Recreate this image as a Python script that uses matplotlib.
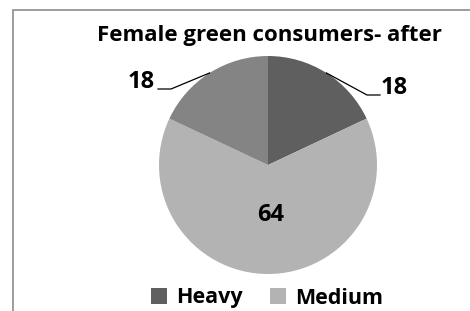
import numpy as np
import matplotlib
matplotlib.use("Agg")
import matplotlib.pyplot as plt
from matplotlib.patches import Rectangle, Patch

title = "Female green consumers- after"
categories = ["Heavy", "Medium", "Light"]
values = [18, 64, 18]
colors = ["#5f5f5f", "#b3b3b3", "#848484"]
legend_shown = ["Heavy", "Medium"]

W, H = 470, 311
fig = plt.figure(figsize=(W / 100, H / 100), dpi=100)
ax = fig.add_axes([0, 0, 1, 1])

FONT = "Open Sans"
cx, cy, r = 268, H - 165, 109

wedges, _ = ax.pie(values, colors=colors, startangle=90, counterclock=False,
                   center=(cx, cy), radius=r, frame=True,
                   wedgeprops=dict(linewidth=0))
ax.set_xlim(0, W)
ax.set_ylim(0, H)
ax.axis("off")

# chart border (screenshot crop)
fig.patches.append(Rectangle((12.5 / W, -0.1), 1.2, 1 - 10 / H + 0.1,
                             transform=fig.transFigure, fill=False,
                             edgecolor="#8c8c8c", linewidth=1.2))

fig.text(269 / W, 1 - 35 / H, title, ha="center", va="center",
         fontsize=16, fontweight="bold", family=FONT)

# labels
for w, v, cat in zip(wedges, values, categories):
    mid = np.deg2rad((w.theta1 + w.theta2) / 2)
    ex, ey = cx + r * np.cos(mid), cy + r * np.sin(mid)
    if cat == "Medium":
        ax.text(271, cy - 50, str(v), ha="center", va="center",
                fontsize=17, fontweight="bold", family=FONT)
    elif cat == "Heavy":
        ax.plot([ex, 367, 380], [ey, H - 95, H - 95], color="black", lw=0.9)
        ax.text(381, H - 88, str(v), ha="left", va="center",
                fontsize=17, fontweight="bold", family=FONT)
    else:
        ax.plot([ex, 171, 158], [ey, H - 89, H - 89], color="black", lw=0.9)
        ax.text(155, H - 82, str(v), ha="right", va="center",
                fontsize=17, fontweight="bold", family=FONT)

handles = [Patch(facecolor=colors[categories.index(c)], edgecolor="none")
           for c in legend_shown]
fig.legend(handles, legend_shown, loc="center", bbox_to_anchor=(267 / W, 1 - 298 / H),
           ncol=2, frameon=False, prop=dict(family=FONT, weight="bold", size=15.5),
           handlelength=0.75, handleheight=0.75, handletextpad=0.4, columnspacing=1.3)

fig.savefig("out.png", dpi=100)
